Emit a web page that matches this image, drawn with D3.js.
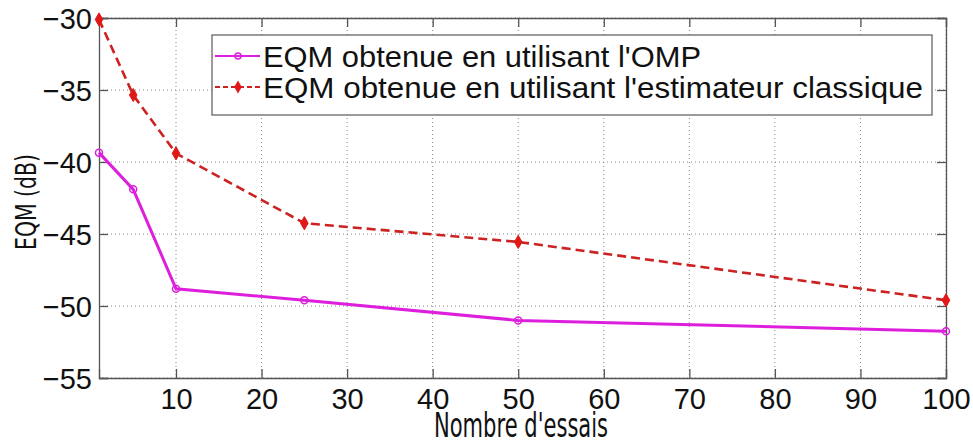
<!DOCTYPE html>
<html><head><meta charset="utf-8">
<script src="https://cdn.jsdelivr.net/npm/d3@7"></script>
<style>body{margin:0;background:#fff}</style>
</head><body>
<svg id="c" width="973" height="446"></svg>
<script>
const xValues = [1, 5, 10, 25, 50, 100];
const ompValues = [-39.35, -41.9, -48.8, -49.6, -51.0, -51.75];
const classicValues = [-30.1, -35.35, -39.4, -44.25, -45.55, -49.6];
const xTicks = [10, 20, 30, 40, 50, 60, 70, 80, 90, 100];
const yTicks = [-55, -50, -45, -40, -35, -30];
const seriesNames = ["EQM obtenue en utilisant l'OMP", "EQM obtenue en utilisant l'estimateur classique"];
const xLabel = "Nombre d'essais";
const yLabel = "EQM (dB)";

const svg = d3.select("#c");
const m = {l: 99, r: 946, t: 18, b: 378};
const x = d3.scaleLinear().domain([1, 100]).range([m.l, m.r]);
const y = d3.scaleLinear().domain([-55, -30]).range([m.b, m.t]);

const g = svg.append("g");
g.selectAll(".gx").data(xTicks).join("line")
  .attr("x1", d => x(d)).attr("x2", d => x(d)).attr("y1", m.t).attr("y2", m.b)
  .attr("stroke", "#888").attr("stroke-width", 1).attr("stroke-dasharray", "1,3");
g.selectAll(".gy").data(yTicks).join("line")
  .attr("y1", d => y(d)).attr("y2", d => y(d)).attr("x1", m.l).attr("x2", m.r)
  .attr("stroke", "#888").attr("stroke-width", 1).attr("stroke-dasharray", "1,3");

const fontT = "'Liberation Sans', Arial, sans-serif";
const xa = svg.append("g").attr("transform", `translate(0,${m.b})`)
  .call(d3.axisBottom(x).tickValues(xTicks).tickSize(-9).tickPadding(10));
const ya = svg.append("g").attr("transform", `translate(${m.l},0)`)
  .call(d3.axisLeft(y).tickValues(yTicks).tickSize(-9).tickPadding(7));
svg.append("g").attr("transform", `translate(0,${m.t})`)
  .call(d3.axisTop(x).tickValues(xTicks).tickSize(-9).tickFormat(""));
svg.append("g").attr("transform", `translate(${m.r},0)`)
  .call(d3.axisRight(y).tickValues(yTicks).tickSize(-9).tickFormat(""));
svg.selectAll(".domain").attr("stroke", "#555").attr("stroke-width", 1.3);
svg.selectAll(".tick line").attr("stroke", "#555").attr("stroke-width", 1.3);
svg.selectAll(".tick text").attr("font-family", fontT).attr("font-size", 29).attr("fill", "#111");
ya.selectAll(".tick text").attr("dy", "0.36em");
xa.selectAll(".tick text").attr("dy", "0.71em");

const ptsO = xValues.map((d, i) => [d, ompValues[i]]);
const ptsC = xValues.map((d, i) => [d, classicValues[i]]);
const line = d3.line().x(d => x(d[0])).y(d => y(d[1]));
const mag = "#dd1fdd", red = "#cc2222";
svg.append("path").datum(ptsO).attr("d", line).attr("fill", "none").attr("stroke", mag).attr("stroke-width", 3);
svg.selectAll(".mo").data(ptsO).join("circle").attr("cx", d => x(d[0])).attr("cy", d => y(d[1])).attr("r", 3.5)
  .attr("fill", "none").attr("stroke", mag).attr("stroke-width", 1.5);
svg.append("path").datum(ptsC).attr("d", line).attr("fill", "none").attr("stroke", red).attr("stroke-width", 2.6).attr("stroke-dasharray", "9,5");
const dia = d3.symbol().type(d3.symbolDiamond).size(50);
svg.selectAll(".mc").data(ptsC).join("path").attr("d", dia)
  .attr("transform", d => `translate(${x(d[0])},${y(d[1])})`).attr("fill", "#e01818").attr("stroke", "#e01818");

// legend
const lg = svg.append("g");
lg.append("rect").attr("x", 212).attr("y", 35).attr("width", 720).attr("height", 80)
  .attr("fill", "#fff").attr("stroke", "#666").attr("stroke-width", 1.3);
const rows = [{y: 56, c: mag, dash: null, sym: "c", w: 438}, {y: 87, c: red, dash: "5,3", sym: "d", w: 660}];
rows.forEach((r, i) => {
  lg.append("line").attr("x1", 215).attr("x2", 260).attr("y1", r.y).attr("y2", r.y)
    .attr("stroke", r.c).attr("stroke-width", 2.2).attr("stroke-dasharray", r.dash);
  if (r.sym === "c") lg.append("circle").attr("cx", 238).attr("cy", r.y).attr("r", 3).attr("fill", "none").attr("stroke", r.c).attr("stroke-width", 1.5);
  else lg.append("path").attr("d", dia).attr("transform", `translate(238,${r.y})`).attr("fill", "#e01818");
  lg.append("text").attr("x", 263).attr("y", r.y).attr("dy", "0.36em").text(seriesNames[i])
    .attr("font-family", fontT).attr("font-size", 30).attr("fill", "#111")
    .attr("textLength", r.w).attr("lengthAdjust", "spacingAndGlyphs");
});

// axis labels
svg.append("text").attr("transform", "translate(521,437) scale(0.62,1)").attr("text-anchor", "middle")
  .attr("font-family", "'DejaVu Sans', sans-serif").attr("font-size", 34)
  .attr("fill", "#111").text(xLabel);
svg.append("text").attr("transform", "translate(36,202) rotate(-90) scale(0.73,1)").attr("text-anchor", "middle")
  .attr("font-family", "'DejaVu Sans', sans-serif").attr("font-size", 28).attr("fill", "#111").text(yLabel);
</script>
</body></html>
